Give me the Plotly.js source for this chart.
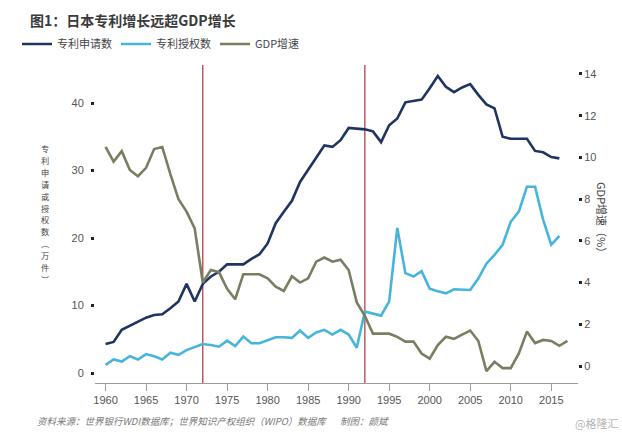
<!DOCTYPE html>
<html>
<head>
<meta charset="utf-8">
<script src="https://cdn.plot.ly/plotly-3.0.1.min.js"></script>
<style>
html,body{margin:0;padding:0;background:#fff;}
#chart{width:622px;height:433px;}
</style>
</head>
<body>
<div id="chart"></div>
<script>
// ---- data ----
const patentYears = [1960,1961,1962,1963,1964,1965,1966,1967,1968,1969,
  1970,1971,1972,1973,1974,1975,1976,1977,1978,1979,
  1980,1981,1982,1983,1984,1985,1986,1987,1988,1989,
  1990,1991,1992,1993,1994,1995,1996,1997,1998,1999,
  2000,2001,2002,2003,2004,2005,2006,2007,2008,2009,
  2010,2011,2012,2013,2014,2015,2016];
const gdpYears = [1960,1961,1962,1963,1964,1965,1966,1967,1968,1969,
  1970,1971,1972,1973,1974,1975,1976,1977,1978,1979,
  1980,1981,1982,1983,1984,1985,1986,1987,1988,1989,
  1990,1991,1992,1993,1994,1995,1996,1997,1998,1999,
  2000,2001,2002,2003,2004,2005,2006,2007,2008,2009,
  2010,2011,2012,2013,2014,2015,2016,2017];

// 专利申请数 (万件)
const applications = [4.3,4.6,6.4,7.0,7.6,8.2,8.6,8.7,9.6,10.6,
  13.2,10.6,13.2,14.3,15.0,16.1,16.1,16.1,16.9,17.6,
  19.2,22.2,23.9,25.5,28.3,30.1,31.8,33.7,33.5,34.5,
  36.3,36.2,36.1,35.8,34.2,36.7,37.7,40.1,40.3,40.5,
  42.2,44.0,42.4,41.6,42.3,42.8,41.2,39.8,39.2,35.0,
  34.7,34.7,34.7,32.9,32.7,32.0,31.8];
// 专利授权数 (万件)
const grants = [1.2,2.0,1.7,2.5,2.0,2.8,2.5,2.0,3.0,2.7,
  3.4,3.9,4.3,4.15,3.9,4.8,4.0,5.4,4.4,4.4,
  4.9,5.3,5.3,5.2,6.3,5.2,6.0,6.4,5.7,6.4,
  5.7,3.75,9.1,8.8,8.5,10.6,21.5,14.8,14.3,15.1,
  12.5,12.1,11.8,12.4,12.4,12.3,14.0,16.2,17.5,19.0,
  22.4,23.9,27.6,27.6,22.7,19.0,20.3];
// GDP 增速 (%)
const gdpGrowth = [10.5,9.8,10.3,9.4,9.1,9.5,10.4,10.5,9.2,8.0,
  7.4,6.6,4.0,4.6,4.5,3.7,3.2,4.4,4.4,4.4,
  4.2,3.8,3.6,4.3,4.0,4.2,5.0,5.2,5.0,5.1,
  4.6,3.05,2.4,1.55,1.55,1.55,1.4,1.17,1.17,0.6,
  0.35,1.0,1.4,1.3,1.5,1.7,1.2,-0.25,0.2,-0.1,
  -0.1,0.6,1.65,1.1,1.25,1.2,0.97,1.2];

const seriesNames = ['专利申请数', '专利授权数', 'GDP增速'];
const xTickVals = [1960,1965,1970,1975,1980,1985,1990,1995,2000,2005,2010,2015];
const leftTickVals = [0,10,20,30,40];
const rightTickVals = [0,2,4,6,8,10,12,14];
const eventYears = [1972, 1992];

const titleText = '图1：日本专利增长远超GDP增长';
const leftAxisTitle = ['专','利','申','请','或','授','权','数','︵','万','件','︶'];
const rightAxisTitle = 'GDP增速（%）';
const sourceText = '资料来源：世界银行WDI数据库；世界知识产权组织（WIPO）数据库\u3000\u2002制图：颜斌';
const watermark = '@格隆汇';

// ---- styles ----
const CJK = '"Noto Sans CJK SC", "Noto Sans", sans-serif';
const NUM = '"Liberation Sans", Arial, "Noto Sans CJK SC", sans-serif';
const colors = ['#203461', '#47b4dc', '#7b7d63'];

const traces = [
  {x: patentYears, y: applications, name: seriesNames[0], type: 'scatter', mode: 'lines',
   line: {color: colors[0], width: 2.6}, yaxis: 'y'},
  {x: patentYears, y: grants, name: seriesNames[1], type: 'scatter', mode: 'lines',
   line: {color: colors[1], width: 2.6}, yaxis: 'y'},
  {x: gdpYears, y: gdpGrowth, name: seriesNames[2], type: 'scatter', mode: 'lines',
   line: {color: colors[2], width: 2.6}, yaxis: 'y2'}
];

const shapes = eventYears.map(yr => ({
  type: 'line', xref: 'x', yref: 'paper', x0: yr, x1: yr, y0: 0, y1: 1,
  line: {color: '#a3353b', width: 1.2}, layer: 'below'
}));

const tickFont = {family: NUM, size: 11, color: '#555'};

// vertical (upright, stacked) left axis title: one annotation per character
const leftTitleSize = 8.2;
const leftTitlePitch = 11.95;
const leftTitleAnnots = leftAxisTitle.map((ch, i) => ({
  text: ch, xref: 'paper', yref: 'paper',
  x: (45-95)/483, y: (383-213.5)/318, xanchor: 'center', yanchor: 'middle',
  yshift: -(i - (leftAxisTitle.length - 1) / 2) * leftTitlePitch,
  showarrow: false, font: {family: CJK, size: leftTitleSize, color: '#444'}
}));

const layout = {
  width: 622, height: 433,
  paper_bgcolor: '#fff', plot_bgcolor: '#fff',
  margin: {l: 95, r: 44, t: 65, b: 50, pad: 0},
  font: {family: CJK, color: '#444'},
  title: {
    text: titleText, x: 30/622, xanchor: 'left', xref: 'container',
    y: 1 - 21/433, yanchor: 'middle', yref: 'container',
    font: {family: CJK, size: 14, color: '#3a3a3a', weight: 'bold'}
  },
  showlegend: true,
  legend: {
    orientation: 'h', xref: 'container', yref: 'container',
    x: 17/622, xanchor: 'left', y: 1 - 44/433, yanchor: 'middle',
    font: {family: CJK, size: 11, color: '#444'},
    entrywidth: 54, entrywidthmode: 'pixels',
    bgcolor: 'rgba(0,0,0,0)', borderwidth: 0, traceorder: 'normal'
  },
  xaxis: {
    range: [1958.7, 2018.3], tickmode: 'array', tickvals: xTickVals,
    showgrid: false, zeroline: false,
    showline: true, linecolor: '#9a9a9a', linewidth: 1,
    ticks: 'outside', ticklen: 7, tickwidth: 1, tickcolor: '#9a9a9a',
    tickfont: tickFont, fixedrange: true
  },
  yaxis: {
    range: [-1.48, 45.63], tickmode: 'array', tickvals: leftTickVals,
    showgrid: false, zeroline: false, showline: false,
    ticks: 'outside', ticklen: 3, tickwidth: 3, tickcolor: '#222',
    ticklabelstandoff: 5,
    tickfont: tickFont, fixedrange: true
  },
  yaxis2: {
    overlaying: 'y', side: 'right', anchor: 'x',
    range: [-0.815, 14.43], tickmode: 'array', tickvals: rightTickVals,
    showgrid: false, zeroline: false, showline: false,
    ticks: 'outside', ticklen: 3, tickwidth: 3, tickcolor: '#222',
    tickfont: tickFont, fixedrange: true
  },
  shapes: shapes,
  annotations: leftTitleAnnots.concat([
    {text: rightAxisTitle, xref: 'paper', yref: 'paper', textangle: 90,
     x: (602-95)/483, y: (383-220)/318, xanchor: 'center', yanchor: 'middle',
     showarrow: false, font: {family: CJK, size: 11, color: '#444'}},
    {text: sourceText, xref: 'paper', yref: 'paper',
     x: (35-95)/483, y: (383-421)/318, xanchor: 'left', yanchor: 'middle',
     showarrow: false, font: {family: CJK, size: 9.5, color: '#777', style: 'italic'}},
    {text: watermark, xref: 'paper', yref: 'paper',
     x: (620-95)/483, y: (383-423)/318, xanchor: 'right', yanchor: 'middle',
     showarrow: false, font: {family: CJK, size: 11, color: '#b5b5b5'}}
  ])
};

Plotly.newPlot('chart', traces, layout, {displayModeBar: false, staticPlot: true});
</script>
</body>
</html>
